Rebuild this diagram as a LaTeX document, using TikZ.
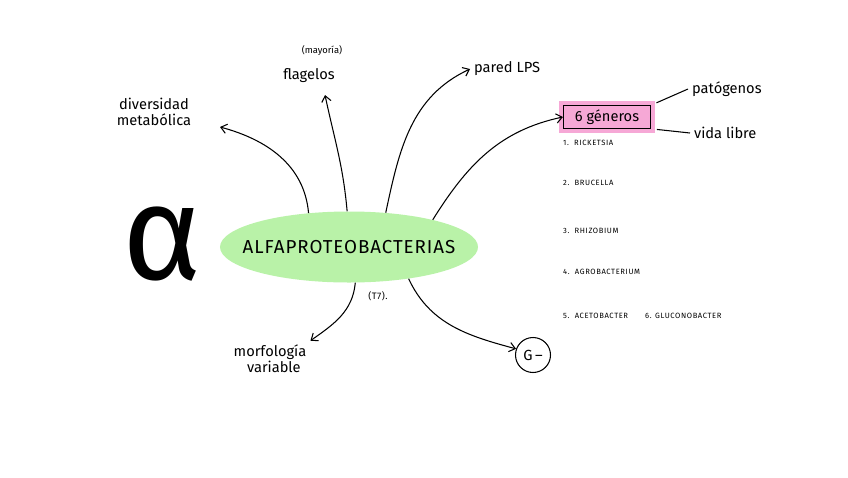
\documentclass[tikz,border=0pt]{standalone}
\usepackage{fontspec}
\setmainfont{Fira Sans}
\usetikzlibrary{arrows.meta,shapes.geometric}
\definecolor{verde}{RGB}{185,242,168}
\definecolor{rosa}{RGB}{246,168,214}

\begin{document}
\begin{tikzpicture}[x=0.03cm,y=-0.03cm,
  arr/.style={line width=0.9pt,-{Straight Barb[length=5pt,width=8pt,line width=0.9pt]}},
  lbl/.style={font=\fontsize{12.5}{14}\selectfont},
  gen/.style={font=\fontsize{6.5}{7}\selectfont\addfontfeature{LetterSpace=8},anchor=west,inner sep=0pt}]
\useasboundingbox (0,0) rectangle (848,477);
% centre
\node[ellipse,fill=verde,minimum width=7.74cm,minimum height=2.13cm,inner sep=0pt,
  label={[font=\fontsize{16}{16}\selectfont\addfontfeature{LetterSpace=5}]center:ALFAPROTEOBACTERIAS}] (bac) at (349,247) {};
\node[font=\fontsize{115}{115}\selectfont] (alfa) at (162,244) {α};
\node[font=\fontsize{8}{8}\selectfont\addfontfeature{LetterSpace=5}] (t7) at (378,296) {(T7).};
% ramas
\node[lbl,align=center] (div) at (154,112) {diversidad\\metabólica};
\node[font=\fontsize{8}{8}\selectfont] (may) at (322,51) {(mayoría)};
\node[lbl] (flag) at (309,76) {flagelos};
\node[lbl,anchor=west] (lps) at (470,69) {pared LPS};
\node[lbl,draw,line width=1pt,fill=rosa,minimum width=2.61cm,minimum height=0.69cm,inner sep=0pt,
  preaction={draw=rosa,line width=8pt,rounded corners=3pt}] (gen) at (607,117) {6 géneros};
\node[lbl,anchor=west] (pat) at (688,89) {patógenos};
\node[lbl,anchor=west] (vida) at (690,133) {vida libre};
\node[lbl,align=center] (morf) at (270,359) {morfología\\\ \ variable};
\node[lbl,draw,line width=0.9pt,circle,minimum size=1.05cm,inner sep=0pt] (gneg) at (533,355) {G\,--};
\coordinate (divtip) at (220,127);
\coordinate (flagtip) at (325,95);
% generos
\foreach \n/\y/\t in {1/143/RICKETSIA,2/183/BRUCELLA,3/231/RHIZOBIUM,4/272/AGROBACTERIUM,5/316/ACETOBACTER}{
  \node[gen] (g\n) at (563,\y) {\n.\ \ \t};}
\node[gen] (g6) at (645,316) {6. GLUCONOBACTER};
% flechas
\draw[arr] (bac.140) to[out=95,in=-15] (divtip);
\draw[arr] (bac.93) to[out=95,in=-78] (flagtip);
\draw[arr] (bac.43) to[out=78,in=-155] (lps.west);
\draw[arr] (bac.18) to[out=58,in=-168] (gen.west);
\draw[arr] (bac.-80) to[out=-95,in=35] (morf.north east);
\draw[arr] (bac.-28) to[out=-65,in=165] (gneg.160);
\draw[line width=0.9pt,shorten <=5pt] (gen.15) -- (pat.west);
\draw[line width=0.9pt,shorten <=5pt] (gen.-15) -- (vida.west);
\end{tikzpicture}
\end{document}
